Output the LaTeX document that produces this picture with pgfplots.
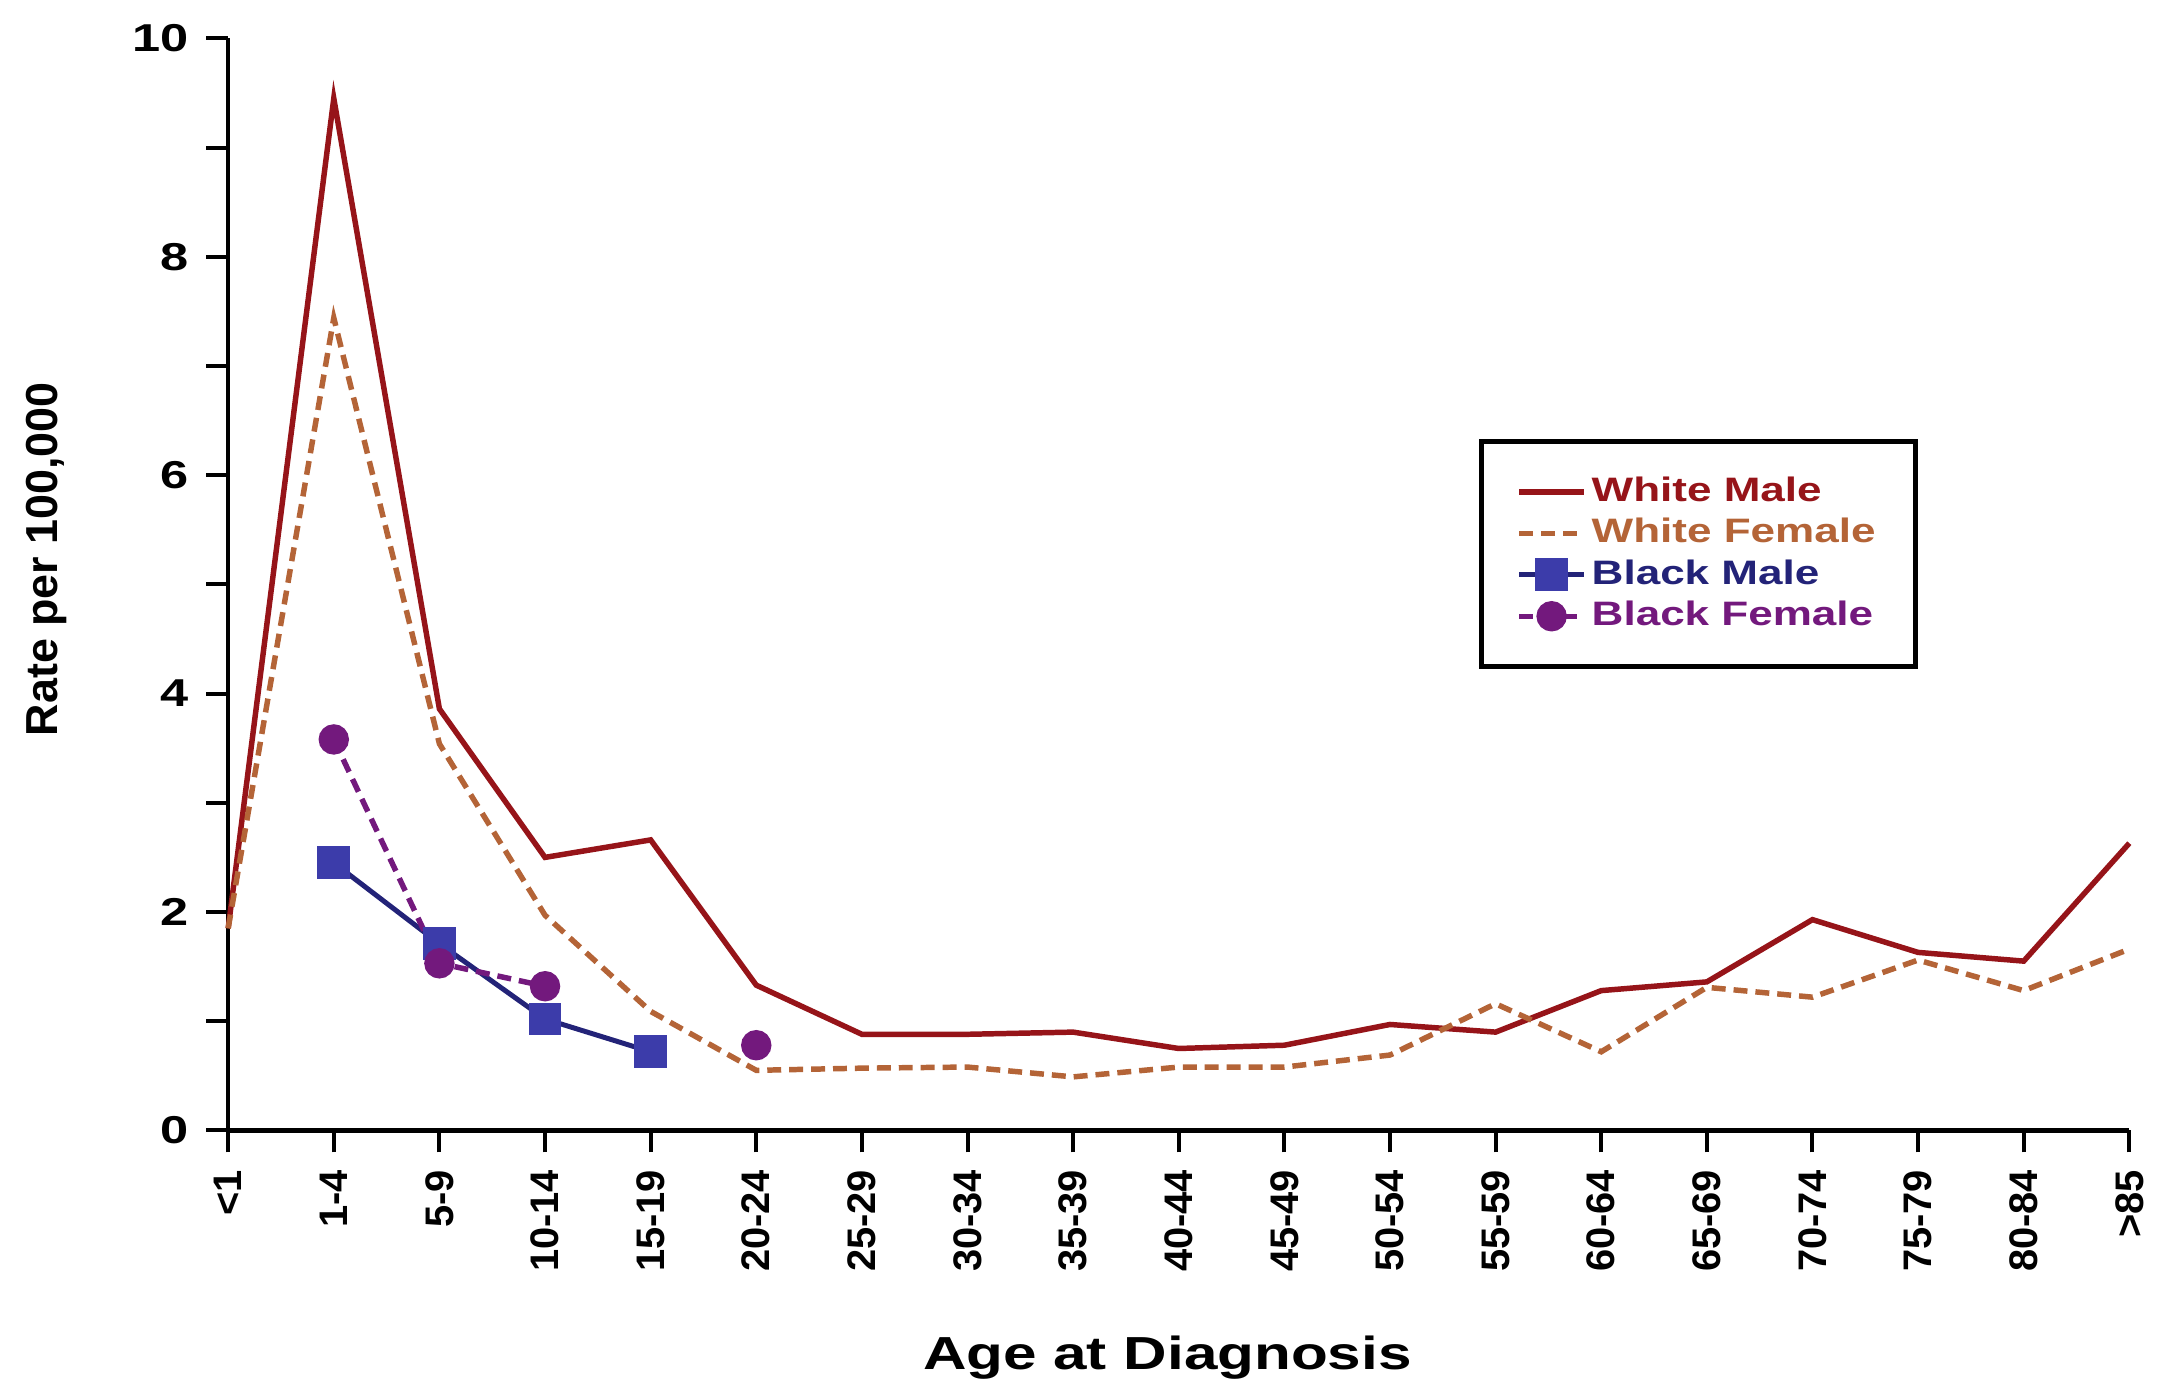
\documentclass[border=0pt]{standalone}
\usepackage{pgfplots}
\pgfplotsset{compat=1.18}
\usepackage{fontspec}
\setmainfont{Liberation Sans}
\newfontfamily\widefont{Liberation Sans}[FakeStretch=1.3]
\definecolor{wm}{RGB}{150,20,25}
\definecolor{wf}{RGB}{180,100,55}
\definecolor{bm}{RGB}{35,35,120}
\definecolor{bmfill}{RGB}{60,60,170}
\definecolor{bf}{RGB}{115,25,125}
\begin{document}
\begin{tikzpicture}
\begin{axis}[name=ax, scale only axis, width=381.6pt, height=219.2pt,
  xmin=0, xmax=18, ymin=0, ymax=10,
  axis lines*=left, axis line style={line width=0.9pt, -},
  xtick={0,...,18},
  xticklabels={<1,1-4,5-9,10-14,15-19,20-24,25-29,30-34,35-39,40-44,45-49,50-54,55-59,60-64,65-69,70-74,75-79,80-84,>85},
  ytick={0,2,...,10}, minor y tick num=1,
  tick align=outside, major tick length=4.4pt, minor tick length=4.4pt,
  tick style={line width=0.8pt, black},
  /pgf/number format/assume math mode=true,
  yticklabel style={font=\widefont\bfseries\fontsize{7.8}{8}\selectfont},
  xticklabel style={font=\bfseries\fontsize{8}{9}\selectfont, rotate=90, anchor=east},
  xlabel={Age at Diagnosis},
  xlabel style={font=\widefont\bfseries\fontsize{9.3}{10}\selectfont, at={(axis description cs:0.494,-0.219)}, anchor=base, inner sep=0pt},
  ylabel={Rate per 100,000},
  ylabel style={font=\bfseries\fontsize{9}{10}\selectfont, at={(axis description cs:-0.0954,0.523)}, anchor=center},
  legend style={at={(0.658,0.633)}, anchor=north west, draw=black, line width=1pt,
    inner xsep=7pt, inner ysep=6pt, font=\widefont\bfseries\fontsize{6.8}{7}\selectfont,
    nodes={inner sep=1pt, text height=5pt, text depth=1.3pt},
    /tikz/every even column/.append style={column sep=0pt}},
  legend cell align=left,
  legend image code/.code={\draw[mark repeat=2,mark phase=2] plot coordinates {(2pt,0pt)(8.5pt,0pt)(15pt,0pt)};},
  clip=false,
  unbounded coords=jump,
]
\addplot[wm, line width=1.1pt] coordinates {
(0,1.85) (1,9.45) (2,3.86) (3,2.5) (4,2.66) (5,1.33) (6,0.88) (7,0.88) (8,0.9) (9,0.75)
(10,0.78) (11,0.97) (12,0.9) (13,1.28) (14,1.36) (15,1.93) (16,1.63) (17,1.55) (18,2.63)};
\addlegendentry{\textcolor{wm}{White Male}}
\addplot[wf, line width=1.1pt, dash pattern=on 2.8pt off 1.6pt] coordinates {
(0,1.85) (1,7.44) (2,3.54) (3,1.97) (4,1.09) (5,0.55) (6,0.57) (7,0.58) (8,0.49) (9,0.58)
(10,0.58) (11,0.69) (12,1.16) (13,0.72) (14,1.31) (15,1.22) (16,1.56) (17,1.28) (18,1.66)};
\addlegendentry{\textcolor{wf}{White Female}}
\addplot[bm, line width=1pt, mark=square*, mark size=2.8pt, mark options={fill=bmfill, draw=bmfill, solid}] coordinates {
(1,2.45) (2,1.71) (3,1.02) (4,0.72)};
\addlegendentry{\textcolor{bm}{Black Male}}
\addplot[bf, line width=1.1pt, dash pattern=on 2.8pt off 1.6pt, mark=*, mark size=2.5pt, mark options={solid, fill=bf}] coordinates {
(1,3.58) (2,1.53) (3,1.32) (4,nan) (5,0.78)};
\addlegendentry{\textcolor{bf}{Black Female}}
\end{axis}
\path ([xshift=-45.8pt,yshift=-50.2pt]ax.south west) rectangle ([xshift=4.6pt,yshift=7.7pt]ax.north east);
\end{tikzpicture}
\end{document}
